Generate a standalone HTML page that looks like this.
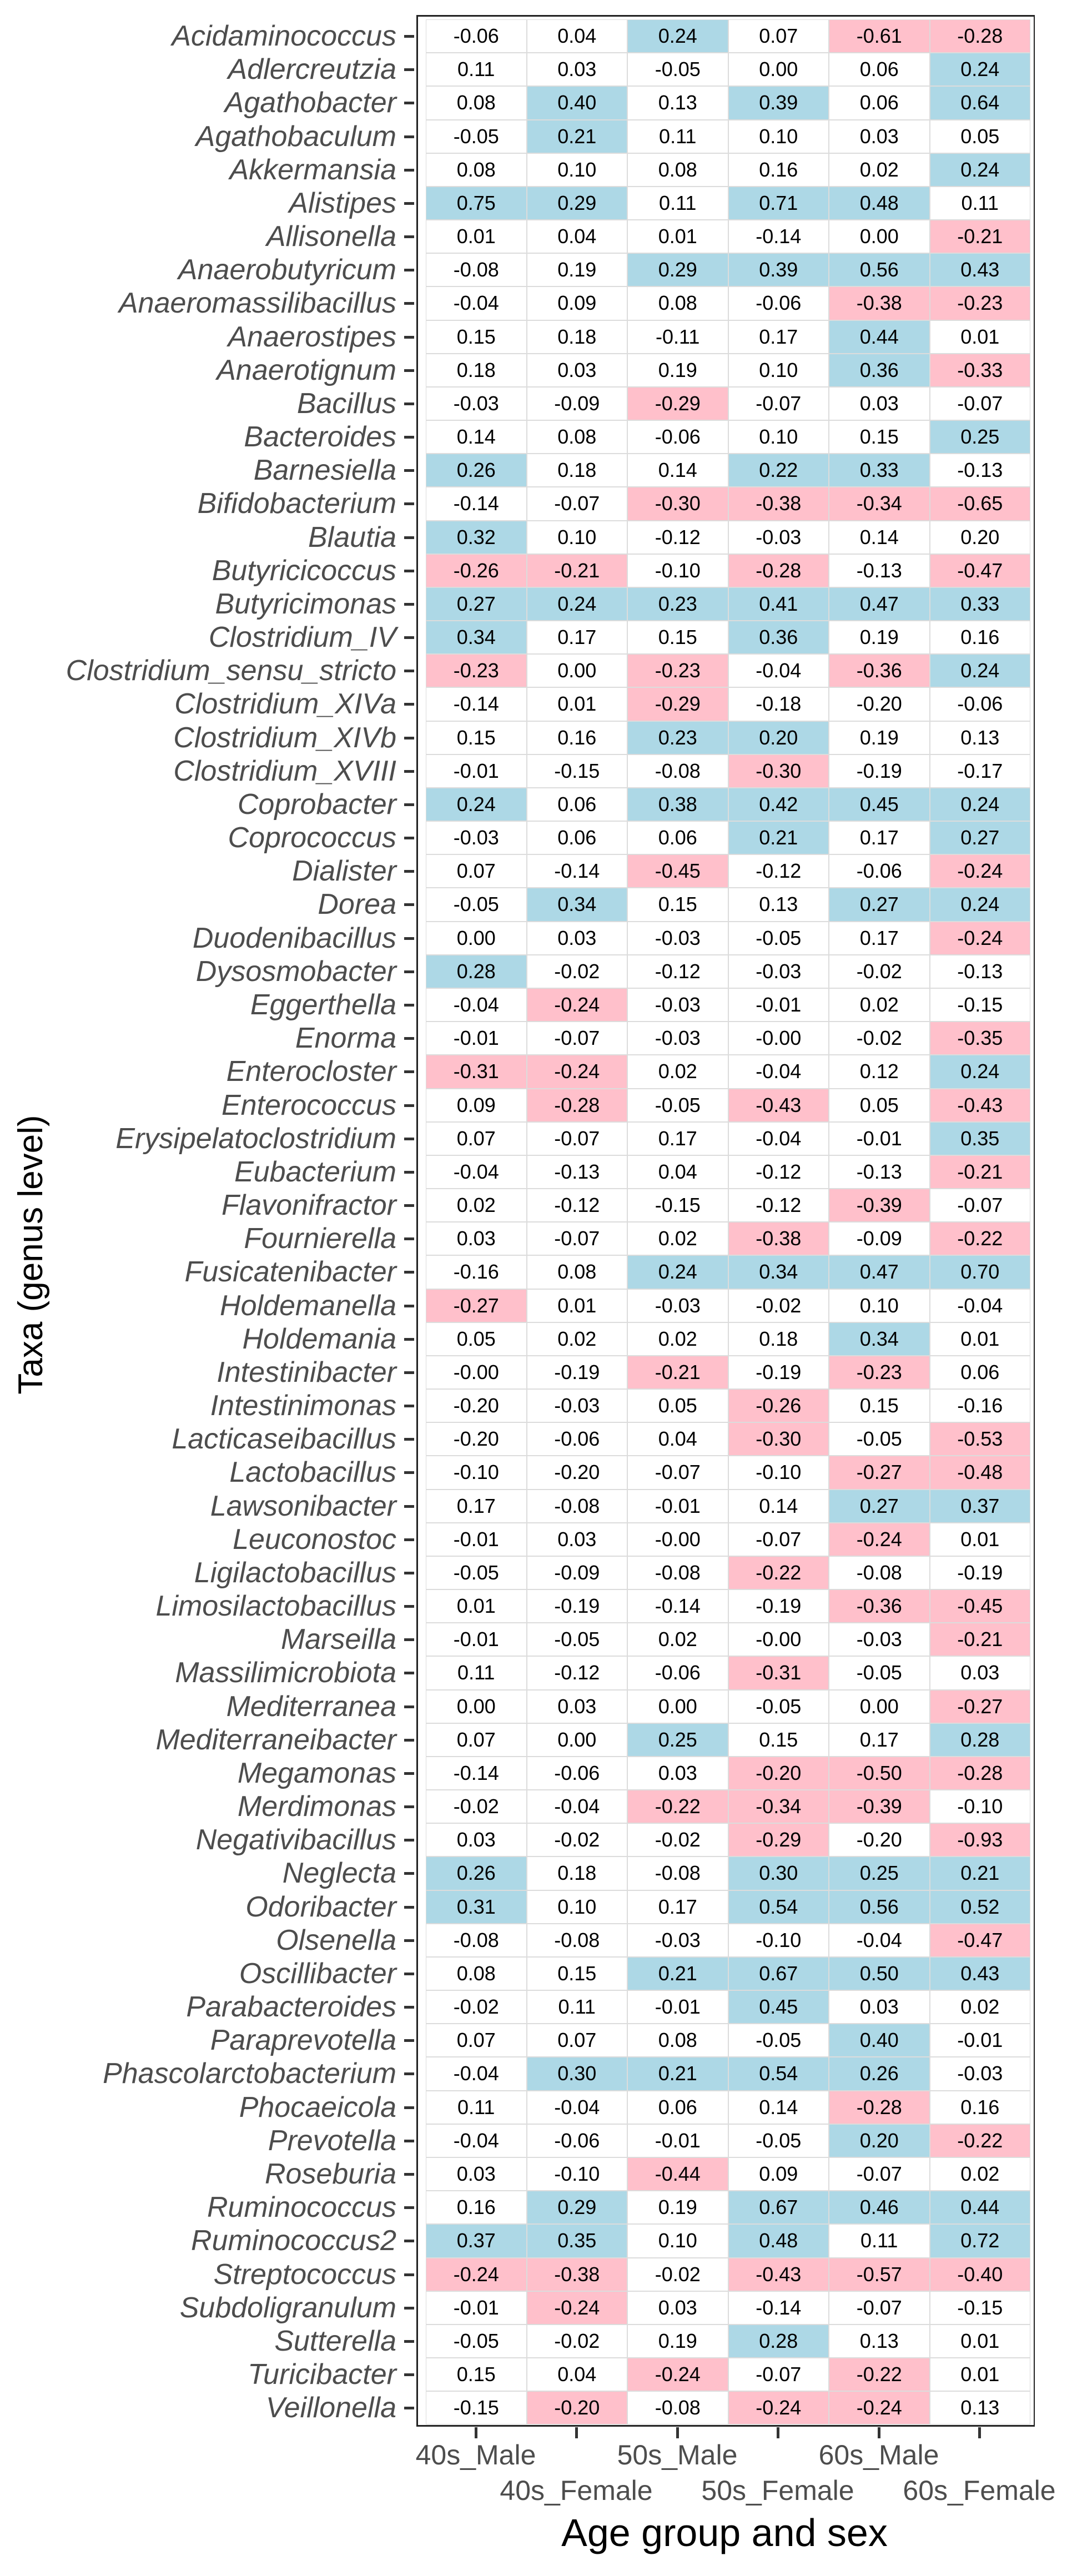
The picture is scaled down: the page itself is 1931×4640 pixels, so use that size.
<!DOCTYPE html>
<html><head><meta charset="utf-8"><style>
body{margin:0;width:1931px;height:4640px;background:#fff;position:relative;overflow:hidden;font-family:"Liberation Sans",sans-serif}
#panel{position:absolute;left:750px;top:27px;width:1114px;height:4344px;border-left:3px solid #222;border-bottom:3px solid #222;border-top:3px solid #222;border-right:2px solid #222;box-sizing:border-box}
#rows{position:absolute;left:0;top:35px;width:1860px}
.r{display:flex;height:60.18px;align-items:stretch}
.r i{width:714px;text-align:right;font-size:52px;line-height:60px;color:#4d4d4d;position:relative;white-space:nowrap}
.r i::after{content:"";position:absolute;right:-32px;top:28px;width:18px;height:5px;background:#333}
.r s{width:53px;text-decoration:none}
.r b{width:181.5px;box-sizing:border-box;border:1px solid #dcdcdc;font-weight:normal;font-size:36px;line-height:58px;text-align:center;color:#000}
.r b.B{background:#add8e6}.r b.P{background:#ffc0cb}
.xt{position:absolute;top:4372px;width:5px;height:20px;background:#333}
.xl{position:absolute;font-size:50px;color:#4d4d4d;width:300px;text-align:center;white-space:nowrap}
</style></head><body>
<div id="panel"></div>
<div id="rows">
<div class="r"><i>Acidaminococcus</i><s></s><b>-0.06</b><b>0.04</b><b class="B">0.24</b><b>0.07</b><b class="P">-0.61</b><b class="P">-0.28</b></div>
<div class="r"><i>Adlercreutzia</i><s></s><b>0.11</b><b>0.03</b><b>-0.05</b><b>0.00</b><b>0.06</b><b class="B">0.24</b></div>
<div class="r"><i>Agathobacter</i><s></s><b>0.08</b><b class="B">0.40</b><b>0.13</b><b class="B">0.39</b><b>0.06</b><b class="B">0.64</b></div>
<div class="r"><i>Agathobaculum</i><s></s><b>-0.05</b><b class="B">0.21</b><b>0.11</b><b>0.10</b><b>0.03</b><b>0.05</b></div>
<div class="r"><i>Akkermansia</i><s></s><b>0.08</b><b>0.10</b><b>0.08</b><b>0.16</b><b>0.02</b><b class="B">0.24</b></div>
<div class="r"><i>Alistipes</i><s></s><b class="B">0.75</b><b class="B">0.29</b><b>0.11</b><b class="B">0.71</b><b class="B">0.48</b><b>0.11</b></div>
<div class="r"><i>Allisonella</i><s></s><b>0.01</b><b>0.04</b><b>0.01</b><b>-0.14</b><b>0.00</b><b class="P">-0.21</b></div>
<div class="r"><i>Anaerobutyricum</i><s></s><b>-0.08</b><b>0.19</b><b class="B">0.29</b><b class="B">0.39</b><b class="B">0.56</b><b class="B">0.43</b></div>
<div class="r"><i>Anaeromassilibacillus</i><s></s><b>-0.04</b><b>0.09</b><b>0.08</b><b>-0.06</b><b class="P">-0.38</b><b class="P">-0.23</b></div>
<div class="r"><i>Anaerostipes</i><s></s><b>0.15</b><b>0.18</b><b>-0.11</b><b>0.17</b><b class="B">0.44</b><b>0.01</b></div>
<div class="r"><i>Anaerotignum</i><s></s><b>0.18</b><b>0.03</b><b>0.19</b><b>0.10</b><b class="B">0.36</b><b class="P">-0.33</b></div>
<div class="r"><i>Bacillus</i><s></s><b>-0.03</b><b>-0.09</b><b class="P">-0.29</b><b>-0.07</b><b>0.03</b><b>-0.07</b></div>
<div class="r"><i>Bacteroides</i><s></s><b>0.14</b><b>0.08</b><b>-0.06</b><b>0.10</b><b>0.15</b><b class="B">0.25</b></div>
<div class="r"><i>Barnesiella</i><s></s><b class="B">0.26</b><b>0.18</b><b>0.14</b><b class="B">0.22</b><b class="B">0.33</b><b>-0.13</b></div>
<div class="r"><i>Bifidobacterium</i><s></s><b>-0.14</b><b>-0.07</b><b class="P">-0.30</b><b class="P">-0.38</b><b class="P">-0.34</b><b class="P">-0.65</b></div>
<div class="r"><i>Blautia</i><s></s><b class="B">0.32</b><b>0.10</b><b>-0.12</b><b>-0.03</b><b>0.14</b><b>0.20</b></div>
<div class="r"><i>Butyricicoccus</i><s></s><b class="P">-0.26</b><b class="P">-0.21</b><b>-0.10</b><b class="P">-0.28</b><b>-0.13</b><b class="P">-0.47</b></div>
<div class="r"><i>Butyricimonas</i><s></s><b class="B">0.27</b><b class="B">0.24</b><b class="B">0.23</b><b class="B">0.41</b><b class="B">0.47</b><b class="B">0.33</b></div>
<div class="r"><i>Clostridium_IV</i><s></s><b class="B">0.34</b><b>0.17</b><b>0.15</b><b class="B">0.36</b><b>0.19</b><b>0.16</b></div>
<div class="r"><i>Clostridium_sensu_stricto</i><s></s><b class="P">-0.23</b><b>0.00</b><b class="P">-0.23</b><b>-0.04</b><b class="P">-0.36</b><b class="B">0.24</b></div>
<div class="r"><i>Clostridium_XIVa</i><s></s><b>-0.14</b><b>0.01</b><b class="P">-0.29</b><b>-0.18</b><b>-0.20</b><b>-0.06</b></div>
<div class="r"><i>Clostridium_XIVb</i><s></s><b>0.15</b><b>0.16</b><b class="B">0.23</b><b class="B">0.20</b><b>0.19</b><b>0.13</b></div>
<div class="r"><i>Clostridium_XVIII</i><s></s><b>-0.01</b><b>-0.15</b><b>-0.08</b><b class="P">-0.30</b><b>-0.19</b><b>-0.17</b></div>
<div class="r"><i>Coprobacter</i><s></s><b class="B">0.24</b><b>0.06</b><b class="B">0.38</b><b class="B">0.42</b><b class="B">0.45</b><b class="B">0.24</b></div>
<div class="r"><i>Coprococcus</i><s></s><b>-0.03</b><b>0.06</b><b>0.06</b><b class="B">0.21</b><b>0.17</b><b class="B">0.27</b></div>
<div class="r"><i>Dialister</i><s></s><b>0.07</b><b>-0.14</b><b class="P">-0.45</b><b>-0.12</b><b>-0.06</b><b class="P">-0.24</b></div>
<div class="r"><i>Dorea</i><s></s><b>-0.05</b><b class="B">0.34</b><b>0.15</b><b>0.13</b><b class="B">0.27</b><b class="B">0.24</b></div>
<div class="r"><i>Duodenibacillus</i><s></s><b>0.00</b><b>0.03</b><b>-0.03</b><b>-0.05</b><b>0.17</b><b class="P">-0.24</b></div>
<div class="r"><i>Dysosmobacter</i><s></s><b class="B">0.28</b><b>-0.02</b><b>-0.12</b><b>-0.03</b><b>-0.02</b><b>-0.13</b></div>
<div class="r"><i>Eggerthella</i><s></s><b>-0.04</b><b class="P">-0.24</b><b>-0.03</b><b>-0.01</b><b>0.02</b><b>-0.15</b></div>
<div class="r"><i>Enorma</i><s></s><b>-0.01</b><b>-0.07</b><b>-0.03</b><b>-0.00</b><b>-0.02</b><b class="P">-0.35</b></div>
<div class="r"><i>Enterocloster</i><s></s><b class="P">-0.31</b><b class="P">-0.24</b><b>0.02</b><b>-0.04</b><b>0.12</b><b class="B">0.24</b></div>
<div class="r"><i>Enterococcus</i><s></s><b>0.09</b><b class="P">-0.28</b><b>-0.05</b><b class="P">-0.43</b><b>0.05</b><b class="P">-0.43</b></div>
<div class="r"><i>Erysipelatoclostridium</i><s></s><b>0.07</b><b>-0.07</b><b>0.17</b><b>-0.04</b><b>-0.01</b><b class="B">0.35</b></div>
<div class="r"><i>Eubacterium</i><s></s><b>-0.04</b><b>-0.13</b><b>0.04</b><b>-0.12</b><b>-0.13</b><b class="P">-0.21</b></div>
<div class="r"><i>Flavonifractor</i><s></s><b>0.02</b><b>-0.12</b><b>-0.15</b><b>-0.12</b><b class="P">-0.39</b><b>-0.07</b></div>
<div class="r"><i>Fournierella</i><s></s><b>0.03</b><b>-0.07</b><b>0.02</b><b class="P">-0.38</b><b>-0.09</b><b class="P">-0.22</b></div>
<div class="r"><i>Fusicatenibacter</i><s></s><b>-0.16</b><b>0.08</b><b class="B">0.24</b><b class="B">0.34</b><b class="B">0.47</b><b class="B">0.70</b></div>
<div class="r"><i>Holdemanella</i><s></s><b class="P">-0.27</b><b>0.01</b><b>-0.03</b><b>-0.02</b><b>0.10</b><b>-0.04</b></div>
<div class="r"><i>Holdemania</i><s></s><b>0.05</b><b>0.02</b><b>0.02</b><b>0.18</b><b class="B">0.34</b><b>0.01</b></div>
<div class="r"><i>Intestinibacter</i><s></s><b>-0.00</b><b>-0.19</b><b class="P">-0.21</b><b>-0.19</b><b class="P">-0.23</b><b>0.06</b></div>
<div class="r"><i>Intestinimonas</i><s></s><b>-0.20</b><b>-0.03</b><b>0.05</b><b class="P">-0.26</b><b>0.15</b><b>-0.16</b></div>
<div class="r"><i>Lacticaseibacillus</i><s></s><b>-0.20</b><b>-0.06</b><b>0.04</b><b class="P">-0.30</b><b>-0.05</b><b class="P">-0.53</b></div>
<div class="r"><i>Lactobacillus</i><s></s><b>-0.10</b><b>-0.20</b><b>-0.07</b><b>-0.10</b><b class="P">-0.27</b><b class="P">-0.48</b></div>
<div class="r"><i>Lawsonibacter</i><s></s><b>0.17</b><b>-0.08</b><b>-0.01</b><b>0.14</b><b class="B">0.27</b><b class="B">0.37</b></div>
<div class="r"><i>Leuconostoc</i><s></s><b>-0.01</b><b>0.03</b><b>-0.00</b><b>-0.07</b><b class="P">-0.24</b><b>0.01</b></div>
<div class="r"><i>Ligilactobacillus</i><s></s><b>-0.05</b><b>-0.09</b><b>-0.08</b><b class="P">-0.22</b><b>-0.08</b><b>-0.19</b></div>
<div class="r"><i>Limosilactobacillus</i><s></s><b>0.01</b><b>-0.19</b><b>-0.14</b><b>-0.19</b><b class="P">-0.36</b><b class="P">-0.45</b></div>
<div class="r"><i>Marseilla</i><s></s><b>-0.01</b><b>-0.05</b><b>0.02</b><b>-0.00</b><b>-0.03</b><b class="P">-0.21</b></div>
<div class="r"><i>Massilimicrobiota</i><s></s><b>0.11</b><b>-0.12</b><b>-0.06</b><b class="P">-0.31</b><b>-0.05</b><b>0.03</b></div>
<div class="r"><i>Mediterranea</i><s></s><b>0.00</b><b>0.03</b><b>0.00</b><b>-0.05</b><b>0.00</b><b class="P">-0.27</b></div>
<div class="r"><i>Mediterraneibacter</i><s></s><b>0.07</b><b>0.00</b><b class="B">0.25</b><b>0.15</b><b>0.17</b><b class="B">0.28</b></div>
<div class="r"><i>Megamonas</i><s></s><b>-0.14</b><b>-0.06</b><b>0.03</b><b class="P">-0.20</b><b class="P">-0.50</b><b class="P">-0.28</b></div>
<div class="r"><i>Merdimonas</i><s></s><b>-0.02</b><b>-0.04</b><b class="P">-0.22</b><b class="P">-0.34</b><b class="P">-0.39</b><b>-0.10</b></div>
<div class="r"><i>Negativibacillus</i><s></s><b>0.03</b><b>-0.02</b><b>-0.02</b><b class="P">-0.29</b><b>-0.20</b><b class="P">-0.93</b></div>
<div class="r"><i>Neglecta</i><s></s><b class="B">0.26</b><b>0.18</b><b>-0.08</b><b class="B">0.30</b><b class="B">0.25</b><b class="B">0.21</b></div>
<div class="r"><i>Odoribacter</i><s></s><b class="B">0.31</b><b>0.10</b><b>0.17</b><b class="B">0.54</b><b class="B">0.56</b><b class="B">0.52</b></div>
<div class="r"><i>Olsenella</i><s></s><b>-0.08</b><b>-0.08</b><b>-0.03</b><b>-0.10</b><b>-0.04</b><b class="P">-0.47</b></div>
<div class="r"><i>Oscillibacter</i><s></s><b>0.08</b><b>0.15</b><b class="B">0.21</b><b class="B">0.67</b><b class="B">0.50</b><b class="B">0.43</b></div>
<div class="r"><i>Parabacteroides</i><s></s><b>-0.02</b><b>0.11</b><b>-0.01</b><b class="B">0.45</b><b>0.03</b><b>0.02</b></div>
<div class="r"><i>Paraprevotella</i><s></s><b>0.07</b><b>0.07</b><b>0.08</b><b>-0.05</b><b class="B">0.40</b><b>-0.01</b></div>
<div class="r"><i>Phascolarctobacterium</i><s></s><b>-0.04</b><b class="B">0.30</b><b class="B">0.21</b><b class="B">0.54</b><b class="B">0.26</b><b>-0.03</b></div>
<div class="r"><i>Phocaeicola</i><s></s><b>0.11</b><b>-0.04</b><b>0.06</b><b>0.14</b><b class="P">-0.28</b><b>0.16</b></div>
<div class="r"><i>Prevotella</i><s></s><b>-0.04</b><b>-0.06</b><b>-0.01</b><b>-0.05</b><b class="B">0.20</b><b class="P">-0.22</b></div>
<div class="r"><i>Roseburia</i><s></s><b>0.03</b><b>-0.10</b><b class="P">-0.44</b><b>0.09</b><b>-0.07</b><b>0.02</b></div>
<div class="r"><i>Ruminococcus</i><s></s><b>0.16</b><b class="B">0.29</b><b>0.19</b><b class="B">0.67</b><b class="B">0.46</b><b class="B">0.44</b></div>
<div class="r"><i>Ruminococcus2</i><s></s><b class="B">0.37</b><b class="B">0.35</b><b>0.10</b><b class="B">0.48</b><b>0.11</b><b class="B">0.72</b></div>
<div class="r"><i>Streptococcus</i><s></s><b class="P">-0.24</b><b class="P">-0.38</b><b>-0.02</b><b class="P">-0.43</b><b class="P">-0.57</b><b class="P">-0.40</b></div>
<div class="r"><i>Subdoligranulum</i><s></s><b>-0.01</b><b class="P">-0.24</b><b>0.03</b><b>-0.14</b><b>-0.07</b><b>-0.15</b></div>
<div class="r"><i>Sutterella</i><s></s><b>-0.05</b><b>-0.02</b><b>0.19</b><b class="B">0.28</b><b>0.13</b><b>0.01</b></div>
<div class="r"><i>Turicibacter</i><s></s><b>0.15</b><b>0.04</b><b class="P">-0.24</b><b>-0.07</b><b class="P">-0.22</b><b>0.01</b></div>
<div class="r"><i>Veillonella</i><s></s><b>-0.15</b><b class="P">-0.20</b><b>-0.08</b><b class="P">-0.24</b><b class="P">-0.24</b><b>0.13</b></div>
</div>
<div class="xt" style="left:855px"></div><div class="xt" style="left:1036px"></div><div class="xt" style="left:1218px"></div><div class="xt" style="left:1399px"></div><div class="xt" style="left:1581px"></div><div class="xt" style="left:1762px"></div>
<div class="xl" style="left:707px;top:4393px">40s_Male</div>
<div class="xl" style="left:888px;top:4457px">40s_Female</div>
<div class="xl" style="left:1070px;top:4393px">50s_Male</div>
<div class="xl" style="left:1251px;top:4457px">50s_Female</div>
<div class="xl" style="left:1433px;top:4393px">60s_Male</div>
<div class="xl" style="left:1614px;top:4457px">60s_Female</div>
<div style="position:absolute;left:905px;width:800px;text-align:center;top:4522px;font-size:70px;color:#000">Age group and sex</div>
<div style="position:absolute;left:56px;top:2260px;width:0;height:0"><div style="position:absolute;left:-400px;top:-36px;width:800px;text-align:center;font-size:62px;line-height:72px;transform:rotate(-90deg);color:#000">Taxa (genus level)</div></div>
</body></html>
